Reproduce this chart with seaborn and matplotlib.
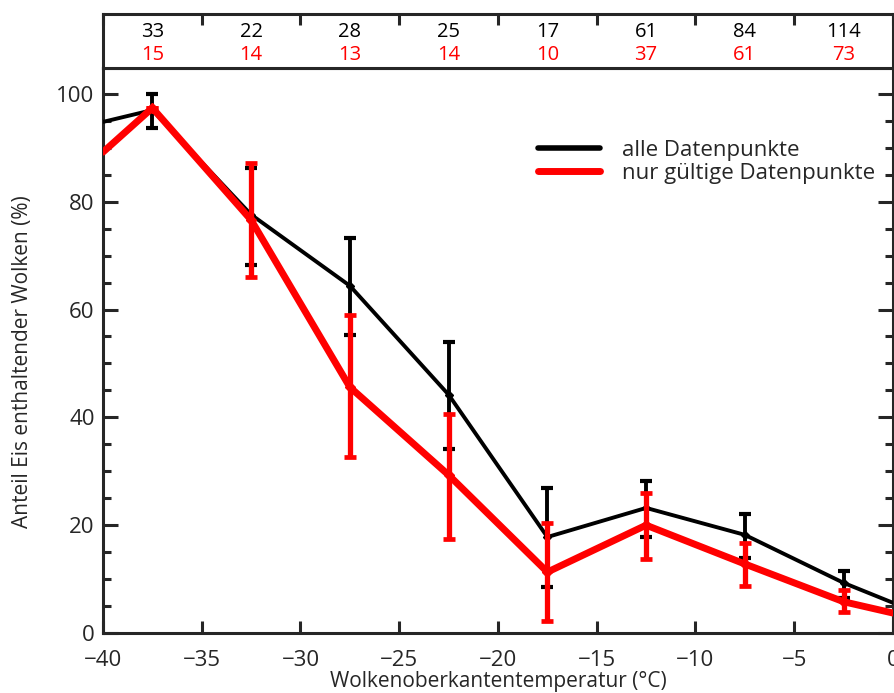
import matplotlib
matplotlib.use("Agg")
import matplotlib.pyplot as plt
from matplotlib.lines import Line2D
from matplotlib.ticker import MultipleLocator
import numpy as np
import pandas as pd
import seaborn as sns

# ---------------- data ----------------
temps_line = [-40, -37.5, -32.5, -27.5, -22.5, -17.5, -12.5, -7.5, -2.5, 0]
all_vals = [94.8, 97.0, 77.6, 64.4, 44.2, 17.8, 23.2, 18.2, 9.3, 5.6]
valid_vals = [89.2, 97.4, 76.6, 45.6, 29.3, 11.3, 20.0, 12.8, 5.8, 3.7]

bin_centers = [-37.5, -32.5, -27.5, -22.5, -17.5, -12.5, -7.5, -2.5]
all_center = [97.0, 77.6, 64.4, 44.2, 17.8, 23.2, 18.2, 9.3]
all_err_lo = [93.7, 68.3, 55.3, 34.1, 8.5, 17.8, 13.9, 6.5]
all_err_hi = [100.0, 86.3, 73.3, 54.0, 26.9, 28.2, 22.1, 11.5]
valid_center = [97.4, 76.6, 45.6, 29.3, 11.3, 20.0, 12.8, 5.8]
valid_err_lo = [97.4, 66.1, 32.7, 17.4, 2.2, 13.7, 8.7, 3.9]
valid_err_hi = [97.4, 87.2, 59.0, 40.6, 20.4, 26.0, 16.7, 8.0]

n_all = [33, 22, 28, 25, 17, 61, 84, 114]
n_valid = [15, 14, 13, 14, 10, 37, 61, 73]

label_all = "alle Datenpunkte"
label_valid = "nur gültige Datenpunkte"
xlabel = "Wolkenoberkantentemperatur (°C)"
ylabel = "Anteil Eis enthaltender Wolken (%)"

# ---------------- style ----------------
sns.set_style("ticks")
plt.rcParams["font.family"] = ["Open Sans", "DejaVu Sans"]

W, H = 895, 693
fig = plt.figure(figsize=(W / 100, H / 100), dpi=100)

left_px, right_px, bottom_px, top_px = 103, 893, 633, 68
ax = fig.add_axes([left_px / W, (H - bottom_px) / H,
                   (right_px - left_px) / W, (bottom_px - top_px) / H])
axt = fig.add_axes([left_px / W, (H - top_px) / H,
                    (right_px - left_px) / W, (top_px - 14) / H])

df_all = pd.DataFrame({"T": temps_line, "v": all_vals})
df_valid = pd.DataFrame({"T": temps_line, "v": valid_vals})

sns.lineplot(data=df_all, x="T", y="v", ax=ax, color="black", linewidth=2.8,
             zorder=3)
ax.errorbar(bin_centers, all_center,
            yerr=[np.array(all_center) - np.array(all_err_lo),
                  np.array(all_err_hi) - np.array(all_center)],
            fmt="D", color="black", ms=4.5, elinewidth=2.8, capsize=4,
            capthick=3.0, zorder=4)

sns.lineplot(data=df_valid, x="T", y="v", ax=ax, color="#ff0000", linewidth=5,
             zorder=5)
ax.errorbar(bin_centers, valid_center,
            yerr=[np.array(valid_center) - np.array(valid_err_lo),
                  np.array(valid_err_hi) - np.array(valid_center)],
            fmt="D", color="#ff0000", ms=5, elinewidth=3.8, capsize=4.3,
            capthick=3.4, zorder=6)

ax.set_xlim(-40, 0)
ax.set_ylim(0, 104.8)
ax.xaxis.set_major_locator(MultipleLocator(5))
ax.yaxis.set_major_locator(MultipleLocator(20))
ax.yaxis.set_minor_locator(MultipleLocator(5))
ax.set_xticks(ax.get_xticks())
ax.set_xticklabels([f"\u2212{abs(int(t))}" if t < 0 else f"{int(t)}"
                    for t in ax.get_xticks()])
ax.tick_params(axis="y", which="major", direction="in", length=11, width=2.2,
               labelsize=16, left=True, right=True, pad=6)
ax.tick_params(axis="y", which="minor", direction="in", length=6, width=2.2,
               left=True, right=True)
ax.tick_params(axis="x", which="major", direction="in", length=9, width=2.2,
               labelsize=16, top=False, bottom=True, pad=12)
ax.set_xlim(-40, 0)
for s in ax.spines.values():
    s.set_visible(True)
    s.set_linewidth(2.2)
ax.set_xlabel(xlabel, fontsize=15, labelpad=0.5)
ax.set_ylabel(ylabel, fontsize=15)
ax.yaxis.set_label_coords(-0.0886, 0.481)

handles = [Line2D([], [], color="black", linewidth=4),
           Line2D([], [], color="#ff0000", linewidth=5)]
leg = ax.legend(handles, [label_all, label_valid], loc="upper left",
                bbox_to_anchor=(0.525, 0.908), frameon=False, fontsize=16,
                handlelength=2.8, handletextpad=1.0, labelspacing=0.08)

# top count panel
axt.set_xlim(-40, 0)
axt.set_ylim(0, 1)
axt.set_yticks([])
axt.xaxis.set_major_locator(MultipleLocator(5))
axt.tick_params(axis="x", which="major", direction="in", length=8, width=2.2,
                top=True, bottom=False, labeltop=False, labelbottom=False)
for s in axt.spines.values():
    s.set_visible(True)
    s.set_linewidth(2.2)
for xc, a, v in zip(bin_centers, n_all, n_valid):
    axt.text(xc, 0.66, str(a), ha="center", va="center", fontsize=14.5,
             color="black")
    axt.text(xc, 0.24, str(v), ha="center", va="center", fontsize=14.5,
             color="#ff0000")

fig.savefig("out.png", dpi=100)
